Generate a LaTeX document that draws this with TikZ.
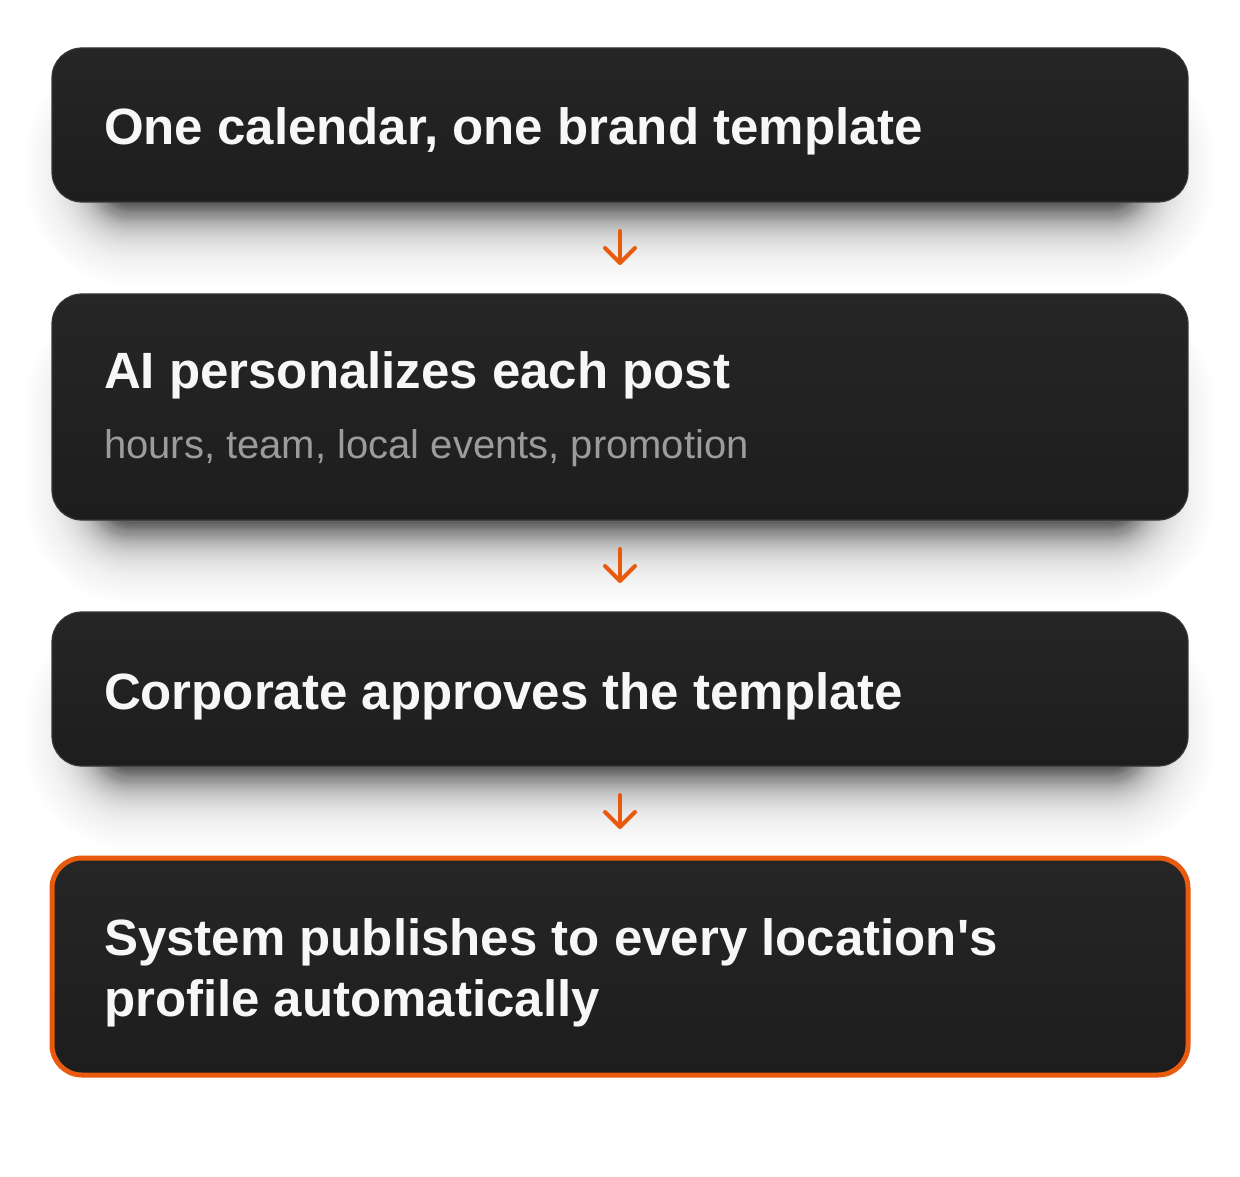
\documentclass[tikz,border=0pt]{standalone}
\usepackage{fontspec}
\usepackage{tikz}
\usetikzlibrary{positioning,arrows.meta,calc,backgrounds}
\setmainfont{Liberation Sans}
\definecolor{cardtop}{HTML}{262626}
\definecolor{cardbot}{HTML}{1D1D1D}
\definecolor{cardline}{HTML}{363636}
\definecolor{accent}{HTML}{E85A0E}
\definecolor{subgrey}{HTML}{9C9C9C}
\newcommand{\steptitle}{\fontsize{25.5}{30.5}\selectfont\bfseries\color{white!97!black}}
\newcommand{\stepnote}{\fontsize{20}{24}\selectfont\mdseries\color{subgrey}}
% soft shadow under a card: stacked rounded rectangles
\newcommand{\cardshadow}[1]{%
  \foreach \e in {-2,...,40}{%
    \pgfmathsetmacro{\op}{1-(1-0.48*exp(-\e/13))/(1-0.48*exp(-(\e+1)/13))}%
    \fill[black,opacity=\op,rounded corners=\e pt+15pt]
      ($(#1.north west)+(24pt-\e pt,-40pt+\e pt)$) rectangle
      ($(#1.south east)+(-24pt+\e pt,-4pt-\e pt)$);
  }}
\tikzset{
  % card styles: plain step and the highlighted last step
  step box/.style={rectangle,rounded corners=15pt,draw=cardline,line width=0.6pt,
    top color=cardtop,bottom color=cardbot,outer sep=0pt,font=\steptitle,
    minimum width=568pt,text width=516pt,inner xsep=26pt,align=flush left},
  last box/.style={step box,draw=accent,line width=2.5pt},
  flow arrow/.style={draw=accent,line width=2pt,line cap=round,line join=round,
    -{Straight Barb[length=7.5pt,width=15pt,round]},shorten <=14.5pt,shorten >=14.5pt}
}
\begin{document}
\begin{tikzpicture}[x=0.5pt,y=-0.5pt,node distance=46pt]
  \useasboundingbox (0,0) rectangle (1240,1176);
  % the four steps, top to bottom
  \node(s1)[step box,minimum height=77pt,text height=20pt,text depth=0pt] at (620,125)
    {One calendar, one brand template};
  \node(s2)[step box,minimum height=113pt,text height=21pt,below=of s1]
    {AI personalizes each post\\[4.5pt]\stepnote hours, team, local events, promotion};
  \node(s3)[step box,minimum height=77pt,text height=20pt,text depth=0pt,below=of s2]
    {Corporate approves the template};
  \node(s4)[last box,minimum height=108.5pt,text height=25pt,below=of s3]
    {System publishes to every location\textquotesingle s\\profile automatically};
  % arrows between the cards
  \draw[flow arrow] (s1.south) -- (s2.north);
  \draw[flow arrow] (s2.south) -- (s3.north);
  \draw[flow arrow] (s3.south) -- (s4.north);
  % page and shadows behind the cards
  \begin{scope}[on background layer]
    \fill[white] (0,0) rectangle (1240,1176);
    \cardshadow{s1}
    \cardshadow{s2}
    \cardshadow{s3}
  \end{scope}
\end{tikzpicture}
\end{document}
